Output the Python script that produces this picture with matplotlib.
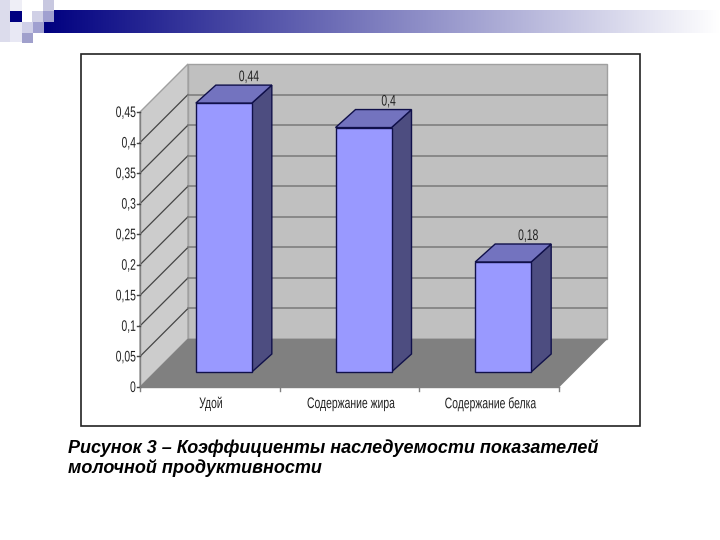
import matplotlib
matplotlib.use('Agg')
import matplotlib.pyplot as plt
from matplotlib.patches import Polygon, Rectangle
from matplotlib.patheffects import AbstractPathEffect
from matplotlib.transforms import Affine2D
import numpy as np

categories = ['Удой', 'Содержание жира', 'Содержание белка']
values = [0.44, 0.4, 0.18]
value_labels = ['0,44', '0,4', '0,18']
tick_values = [0, 0.05, 0.1, 0.15, 0.2, 0.25, 0.3, 0.35, 0.4, 0.45]
tick_labels = ['0', '0,05', '0,1', '0,15', '0,2', '0,25', '0,3', '0,35', '0,4', '0,45']
caption = ['Рисунок 3 – Коэффициенты наследуемости показателей',
           'молочной продуктивности']


class Squeeze(AbstractPathEffect):
    """Narrow a text horizontally, no narrow font is installed."""

    def __init__(self, sx, pivot='center'):
        super().__init__()
        self.sx = sx
        self.pivot = pivot

    def draw_path(self, renderer, gc, tpath, affine, rgbFace=None):
        box = tpath.get_extents()
        px = box.x1 if self.pivot == 'right' else (box.x0 + box.x1) / 2
        squeeze = Affine2D().translate(-px, 0).scale(self.sx, 1).translate(px, 0)
        renderer.draw_path(gc, tpath, squeeze + affine, rgbFace)


# whole figure is one axes in pixel coordinates, the 3D chart is projected by hand
fig = plt.figure(figsize=(7.2, 5.4), dpi=100, facecolor='white')
ax = fig.add_axes([0, 0, 1, 1])
ax.set_xlim(0, 720)
ax.set_ylim(540, 0)
ax.axis('off')

# Header gradient bar
grad = np.linspace(0, 1, 256).reshape(1, -1, 1)
navy = np.array([0, 0, 128]) / 255
rgb = navy * (1 - grad) + grad
ax.imshow(rgb, extent=(44, 720, 33, 10), aspect='auto', zorder=1)
ax.set_xlim(0, 720)
ax.set_ylim(540, 0)

# Header squares
squares = [(0, 0, 10, 42, '#dcdcec'), (10, 0, 12, 11, '#eeeef6'), (10, 22, 12, 20, '#e8e8f4'),
           (10, 11, 12, 11, '#000080'), (32, 11, 11, 11, '#d0d0e6'), (43, 0, 11, 11, '#c8c8e0'),
           (43, 11, 11, 11, '#a0a0d0'), (22, 22, 11, 11, '#d0d0e8'), (33, 22, 11, 11, '#a0a0d0'),
           (22, 33, 11, 10, '#a0a0cc')]
for sx, sy, sw, sh, sc in squares:
    ax.add_patch(Rectangle((sx, sy), sw, sh, facecolor=sc, edgecolor='none', zorder=2))

# Chart frame
ax.add_patch(Rectangle((80.5, 53.5), 559, 372.5, facecolor='white', edgecolor='#222222', lw=1.2, zorder=3))

# Chart geometry
x0, x1 = 140, 559
y_zero, y_top = 387, 112
depth_x, depth_y = 48, -48
px_per_unit = (y_zero - y_top) / 0.45
top_value = tick_values[-1]


def val_y(v, base=y_zero):
    return base - v * px_per_unit


wall = '#c0c0c0'
line = '#7f7f7f'

# Back wall, side wall, floor
ax.add_patch(Polygon([(x0 + depth_x, y_zero + depth_y), (x1 + depth_x, y_zero + depth_y),
                      (x1 + depth_x, val_y(top_value) + depth_y), (x0 + depth_x, val_y(top_value) + depth_y)],
                     facecolor=wall, edgecolor='#a0a0a0', lw=1, zorder=4))
ax.add_patch(Polygon([(x0, y_zero), (x0 + depth_x, y_zero + depth_y),
                      (x0 + depth_x, val_y(top_value) + depth_y), (x0, val_y(top_value))],
                     facecolor='#cccccc', edgecolor='#a0a0a0', lw=1, zorder=4))
ax.add_patch(Polygon([(x0, y_zero), (x1, y_zero), (x1 + depth_x, y_zero + depth_y), (x0 + depth_x, y_zero + depth_y)],
                     facecolor='#808080', edgecolor='#808080', lw=0.5, zorder=5))

# Gridlines on both walls
for v in tick_values[1:-1]:
    y = val_y(v)
    ax.plot([x0, x0 + depth_x], [y, y + depth_y], color='#444444', lw=0.9, zorder=5)
    ax.plot([x0 + depth_x, x1 + depth_x], [y + depth_y, y + depth_y], color=line, lw=1.2, zorder=5)

# Axes and ticks
ax.plot([x0, x0], [y_zero, y_top], color='#808080', lw=1, zorder=6)
ax.plot([x0, x1], [y_zero, y_zero], color='#808080', lw=1, zorder=6)
for v, lab in zip(tick_values, tick_labels):
    y = val_y(v)
    ax.plot([x0 - 3, x0], [y, y], color='#444444', lw=1, zorder=6)
    ax.text(x0 - 4, y + 1, lab, ha='right', va='center', fontsize=11, family='Liberation Sans',
            color='#222222', zorder=7, path_effects=[Squeeze(0.68, 'right')])
slot = (x1 - x0) / len(categories)
for i in range(len(categories) + 1):
    tx = x0 + i * slot
    ax.plot([tx, tx], [y_zero, y_zero + 4], color='#808080', lw=1, zorder=6)

# Bars
bar_w = 56
bar_dx, bar_dy = 20, -18
bar_base = 372
for i, (cat, v, lab) in enumerate(zip(categories, values, value_labels)):
    cx = x0 + (i + 0.5) * slot + 14
    left = cx - bar_w / 2
    right = cx + bar_w / 2
    top = val_y(v, bar_base)
    edge = '#10104a'
    ax.add_patch(Polygon([(right, bar_base), (right + bar_dx, bar_base + bar_dy),
                          (right + bar_dx, top + bar_dy), (right, top)],
                         facecolor='#4d4d80', edgecolor=edge, lw=1, zorder=8))
    ax.add_patch(Polygon([(left, top), (right, top), (right + bar_dx, top + bar_dy), (left + bar_dx, top + bar_dy)],
                         facecolor='#7373bf', edgecolor=edge, lw=1, zorder=8))
    ax.add_patch(Rectangle((left, top), bar_w, bar_base - top, facecolor='#9999ff', edgecolor=edge, lw=1, zorder=9))
    ax.text(cx + 25, top + bar_dy - 8, lab, ha='center', va='center', fontsize=11, family='Liberation Sans',
            color='#222222', zorder=10, path_effects=[Squeeze(0.68)])
    ax.text(x0 + (i + 0.5) * slot + 1, 404, cat, ha='center', va='center', fontsize=11, family='Liberation Sans',
            color='#222222', zorder=10, path_effects=[Squeeze(0.68)])

# Caption
for k, row in enumerate(caption):
    ax.text(68, 448 + k * 20, row, ha='left', va='center', fontsize=13, family='Liberation Sans',
            fontweight='bold', fontstyle='italic', color='black', zorder=10)

fig.savefig('out.png', dpi=100, facecolor='white')
